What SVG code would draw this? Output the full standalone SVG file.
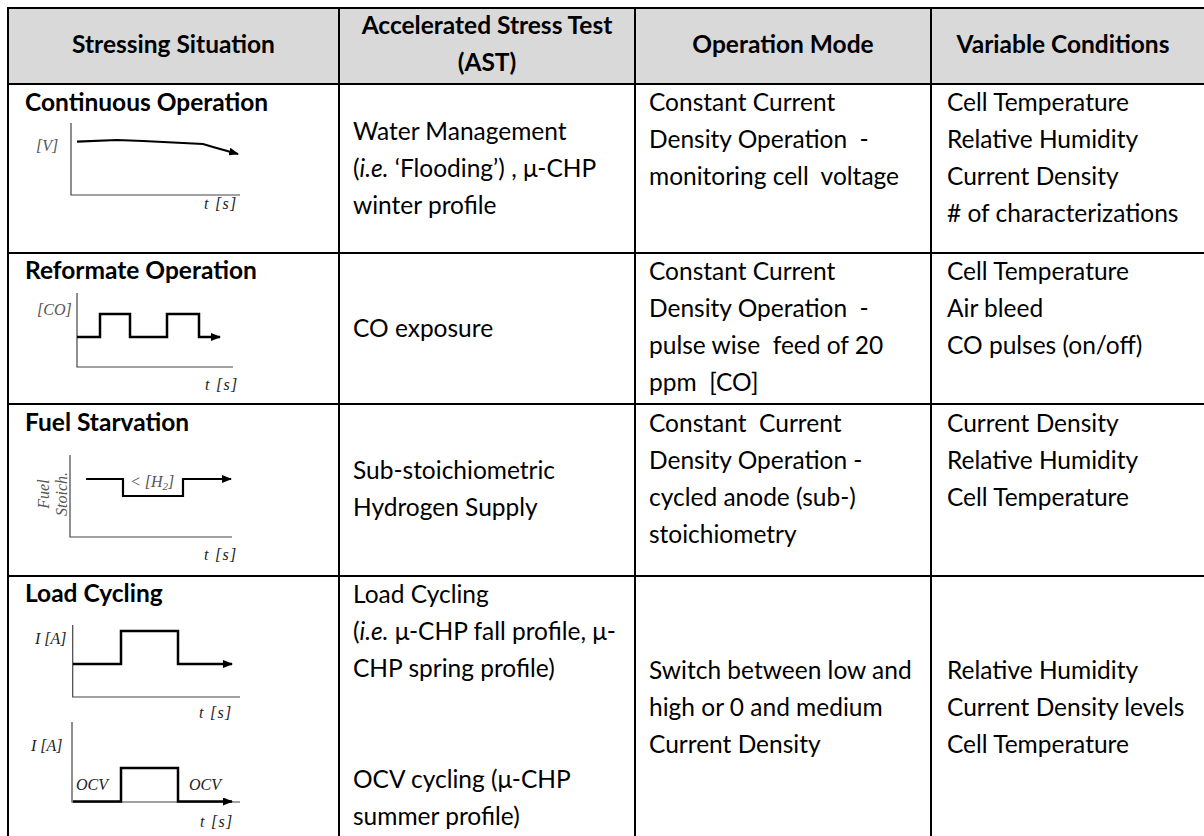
<svg xmlns="http://www.w3.org/2000/svg" width="1204" height="836" viewBox="0 0 1204 836">
<style>
.t{font-family:Lato,"Open Sans",sans-serif;font-size:24.5px;fill:#000;white-space:pre}
.b{font-weight:bold}
.c{text-anchor:middle}
.grid{stroke:#000;stroke-width:2;fill:none}
.ax{stroke:#444;stroke-width:1.2;fill:none}
.sig{stroke:#000;stroke-width:2.5;fill:none;marker-end:url(#ah)}
.lb{font-family:"Liberation Serif",serif;font-style:italic;font-size:16px;fill:#222}
.lg{font-family:"Liberation Serif",serif;font-style:italic;font-size:16px;fill:#555}
.ts{letter-spacing:1.3px}
</style>
<defs>
<marker id="ah" markerUnits="userSpaceOnUse" markerWidth="10" markerHeight="8" refX="9" refY="4" orient="auto" viewBox="0 0 10 8">
<path d="M0,0 L10,4 L0,8 z" fill="#000"/>
</marker>
</defs>
<rect x="0" y="0" width="1204" height="836" fill="#fff"/>
<g id="header">
<rect x="8" y="8" width="1200" height="76" fill="#d9d9d9"/>
<text class="t b c" x="173.5" y="53">Stressing Situation</text>
<text class="t b c" x="487" y="34">Accelerated Stress Test</text>
<text class="t b c" x="487" y="71">(AST)</text>
<text class="t b c" x="783" y="53">Operation Mode</text>
<text class="t b c" x="1063" y="53">Variable Conditions</text>
</g>
<g id="grid" class="grid">
<path d="M8,840 V8 H1210"/>
<path d="M8,84 H1210 M8,253 H1210 M8,404 H1210 M8,576 H1210"/>
<path d="M339,8 V840 M635,8 V840 M931,8 V840"/>
</g>
<g id="row1">
<text class="t b" x="25" y="111">Continuous Operation</text>
<g id="chart1">
<path class="ax" d="M71,123 V195 H240"/>
<path class="sig" style="stroke-width:2.2" d="M77,141.7 L117,140 L143,141 L203,144 L213,147 L238,154"/>
<text class="lg" x="36" y="151">[V]</text>
<text class="lb ts" x="204" y="209">t [s]</text>
</g>
<text class="t" x="353" y="140">Water Management</text>
<text class="t" x="353" y="177">(<tspan font-style="italic">i.e.</tspan> ‘Flooding’) , μ-CHP</text>
<text class="t" x="353" y="214">winter profile</text>
<text class="t" x="649" y="111">Constant Current</text>
<text class="t" x="649" y="148">Density Operation  -</text>
<text class="t" x="649" y="185">monitoring cell  voltage</text>
<text class="t" x="947" y="111">Cell Temperature</text>
<text class="t" x="947" y="148">Relative Humidity</text>
<text class="t" x="947" y="185">Current Density</text>
<text class="t" x="947" y="222"># of characterizations</text>
</g>
<g id="row2">
<text class="t b" x="25" y="279">Reformate Operation</text>
<g id="chart2">
<path class="ax" d="M77,293 V367 H233"/>
<path class="sig" d="M77,337 H100 V314 H130 V337 H167 V314 H199 V337 H220"/>
<text class="lg" x="37" y="315">[CO]</text>
<text class="lb ts" x="205" y="390">t [s]</text>
</g>
<text class="t" x="353" y="337">CO exposure</text>
<text class="t" x="649" y="280">Constant Current</text>
<text class="t" x="649" y="317">Density Operation  -</text>
<text class="t" x="649" y="354">pulse wise  feed of 20</text>
<text class="t" x="649" y="391">ppm  [CO]</text>
<text class="t" x="947" y="280">Cell Temperature</text>
<text class="t" x="947" y="317">Air bleed</text>
<text class="t" x="947" y="354">CO pulses (on/off)</text>
</g>
<g id="row3">
<text class="t b" x="25" y="431">Fuel Starvation</text>
<g id="chart3">
<path class="ax" d="M70,455 V537 H232"/>
<path class="sig" style="stroke-width:2.2" d="M86,479 H123 V496 H183 V479 H231"/>
<text class="lg" x="130" y="487">&lt; [H<tspan font-size="11" dy="3">2</tspan><tspan dy="-3">]</tspan></text>
<text class="lg" transform="translate(49,494) rotate(-90)" text-anchor="middle">Fuel</text>
<text class="lg" transform="translate(67,494) rotate(-90)" text-anchor="middle">Stoich.</text>
<text class="lb ts" x="204" y="560">t [s]</text>
</g>
<text class="t" x="353" y="479">Sub-stoichiometric</text>
<text class="t" x="353" y="516">Hydrogen Supply</text>
<text class="t" x="649" y="432">Constant  Current</text>
<text class="t" x="649" y="469">Density Operation -</text>
<text class="t" x="649" y="506">cycled anode (sub-)</text>
<text class="t" x="649" y="543">stoichiometry</text>
<text class="t" x="947" y="432">Current Density</text>
<text class="t" x="947" y="469">Relative Humidity</text>
<text class="t" x="947" y="506">Cell Temperature</text>
</g>
<g id="row4">
<text class="t b" x="25" y="602">Load Cycling</text>
<g id="chart4">
<path class="ax" d="M72.7,625 V697 H240"/>
<path class="sig" d="M73,664 H121 V631 H178 V664 H232"/>
<text class="lb" x="35" y="644">I [A]</text>
<text class="lb ts" x="199" y="718">t [s]</text>
</g>
<g id="chart5">
<path class="ax" d="M72,722 V802 H240"/>
<path class="sig" d="M73,801.5 H121 V768 H178 V801.5 H232"/>
<text class="lb" x="31" y="751">I [A]</text>
<text class="lb" x="76" y="790">OCV</text>
<text class="lb" x="189" y="790">OCV</text>
<text class="lb ts" x="200" y="827">t [s]</text>
</g>
<text class="t" x="353" y="603">Load Cycling</text>
<text class="t" x="353" y="640">(<tspan font-style="italic">i.e.</tspan> μ-CHP fall profile, μ-</text>
<text class="t" x="353" y="677">CHP spring profile)</text>
<text class="t" x="353" y="788">OCV cycling (μ-CHP</text>
<text class="t" x="353" y="825">summer profile)</text>
<text class="t" x="649" y="679">Switch between low and</text>
<text class="t" x="649" y="716">high or 0 and medium</text>
<text class="t" x="649" y="753">Current Density</text>
<text class="t" x="947" y="679">Relative Humidity</text>
<text class="t" x="947" y="716">Current Density levels</text>
<text class="t" x="947" y="753">Cell Temperature</text>
</g>
</svg>
